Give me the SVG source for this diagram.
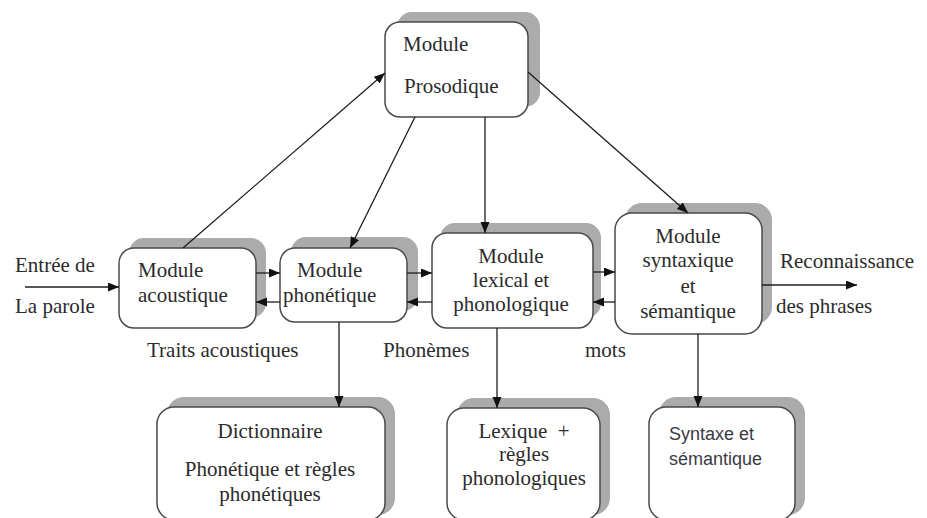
<svg xmlns="http://www.w3.org/2000/svg" width="927" height="518" viewBox="0 0 927 518">
<style>
.sh{fill:#ababab;stroke:none}
.bx{fill:#ffffff;stroke:#4a4a4a;stroke-width:1.5}
.t{font-family:"Liberation Serif","Times New Roman",serif;font-size:21px;fill:#2b2b2b}
.c{text-anchor:middle}
.s{font-family:"Liberation Sans",Arial,sans-serif;font-size:18px;fill:#3a3a44}
.ln{stroke:#1e1e1e;stroke-width:1.3;fill:none;marker-end:url(#ah)}
</style>
<defs>
<marker id="ah" markerUnits="userSpaceOnUse" markerWidth="12" markerHeight="10" refX="11" refY="4.5" orient="auto">
<path d="M0,0 L11,4.5 L0,9 z" fill="#111"/>
</marker>
</defs>
<rect width="927" height="518" fill="#ffffff"/>

<g id="prosodique">
<rect class="sh" x="397" y="12" width="143" height="95" rx="15"/>
<rect class="bx" x="385" y="22" width="143" height="95" rx="15"/>
<text class="t" x="403" y="51">Module</text>
<text class="t" x="404" y="93">Prosodique</text>
</g>

<g id="acoustique">
<rect class="sh" x="129" y="238" width="137" height="80" rx="15"/>
<rect class="bx" x="119" y="248" width="137" height="80" rx="15"/>
<text class="t" x="138" y="277">Module</text>
<text class="t" x="138" y="302">acoustique</text>
</g>

<g id="phonetique">
<rect class="sh" x="291" y="237" width="127" height="74" rx="15"/>
<rect class="bx" x="280" y="248" width="127" height="74" rx="15"/>
<text class="t" x="297" y="277">Module</text>
<text class="t" x="283" y="302">phonétique</text>
</g>

<g id="lexical">
<rect class="sh" x="440" y="223" width="161" height="95" rx="15"/>
<rect class="bx" x="432" y="233" width="161" height="95" rx="15"/>
<text class="t c" x="511" y="263">Module</text>
<text class="t c" x="511" y="287">lexical et</text>
<text class="t c" x="511" y="311">phonologique</text>
</g>

<g id="syntaxique">
<rect class="sh" x="625" y="203" width="147" height="121" rx="17"/>
<rect class="bx" x="615" y="213" width="147" height="121" rx="17"/>
<text class="t c" x="688" y="243">Module</text>
<text class="t c" x="688" y="267">syntaxique</text>
<text class="t c" x="688" y="293">et</text>
<text class="t c" x="688" y="318">sémantique</text>
</g>

<g id="dictionnaire">
<rect class="sh" x="167" y="397" width="228" height="118" rx="17"/>
<rect class="bx" x="157" y="407" width="228" height="113" rx="17"/>
<text class="t c" x="270" y="438">Dictionnaire</text>
<text class="t c" x="270" y="476">Phonétique et règles</text>
<text class="t c" x="270" y="501">phonétiques</text>
</g>

<g id="lexique">
<rect class="sh" x="457" y="398" width="153" height="117" rx="17"/>
<rect class="bx" x="447" y="408" width="153" height="112" rx="17"/>
<text class="t c" x="524" y="438" xml:space="preserve">Lexique  +</text>
<text class="t c" x="524" y="461">règles</text>
<text class="t c" x="524" y="485">phonologiques</text>
</g>

<g id="syntaxe">
<rect class="sh" x="659" y="397" width="146" height="118" rx="17"/>
<rect class="bx" x="649" y="407" width="146" height="113" rx="17"/>
<text class="s" x="669" y="440">Syntaxe et</text>
<text class="s" x="669" y="465">sémantique</text>
</g>

<g id="labels">
<text class="t" x="15" y="272">Entrée de</text>
<text class="t" x="15" y="313">La parole</text>
<text class="t" x="147" y="357">Traits acoustiques</text>
<text class="t" x="383" y="357">Phonèmes</text>
<text class="t" x="585" y="357">mots</text>
<text class="t" x="780" y="268">Reconnaissance</text>
<text class="t" x="776" y="313">des phrases</text>
</g>

<g id="connectors">
<line class="ln" x1="25" y1="287" x2="119" y2="287"/>
<line class="ln" x1="256" y1="273" x2="280" y2="273"/>
<line class="ln" x1="280" y1="302" x2="256" y2="302"/>
<line class="ln" x1="407" y1="273" x2="432" y2="273"/>
<line class="ln" x1="432" y1="302" x2="407" y2="302"/>
<line class="ln" x1="593" y1="272" x2="615" y2="272"/>
<line class="ln" x1="615" y1="302" x2="593" y2="302"/>
<line class="ln" x1="762" y1="285" x2="857" y2="285"/>
<line class="ln" x1="183" y1="248" x2="385" y2="73"/>
<line class="ln" x1="415" y1="117" x2="350" y2="248"/>
<line class="ln" x1="485" y1="117" x2="485" y2="233"/>
<line class="ln" x1="528" y1="72" x2="688" y2="213"/>
<line class="ln" x1="339" y1="322" x2="339" y2="407"/>
<line class="ln" x1="497" y1="328" x2="497" y2="408"/>
<line class="ln" x1="698" y1="334" x2="698" y2="407"/>
</g>
</svg>
